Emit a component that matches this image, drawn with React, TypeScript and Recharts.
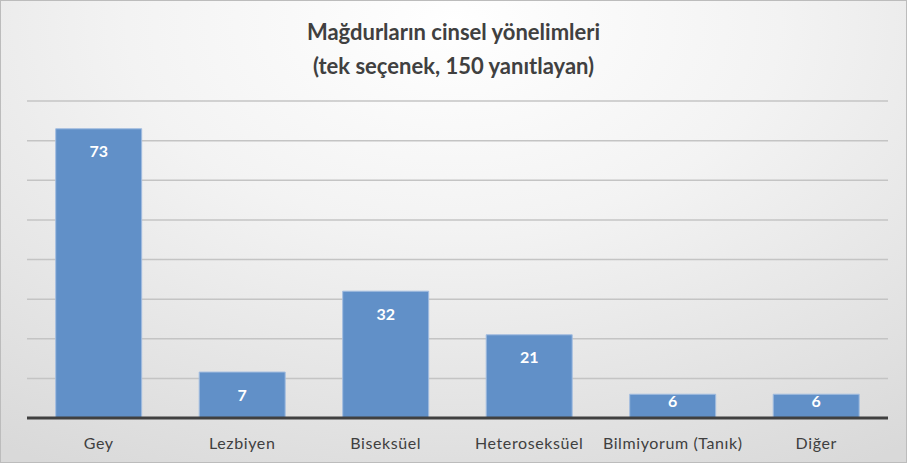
import { Bar, BarChart, CartesianGrid, LabelList, XAxis, YAxis } from "recharts";

const categories = ["Gey", "Lezbiyen", "Biseksüel", "Heteroseksüel", "Bilmiyorum (Tanık)", "Diğer"];
// bar heights as drawn (the Lezbiyen bar is drawn taller than its label says)
const barValues = [73, 11.6, 32, 21, 6, 6];
const barLabels = ["73", "7", "32", "21", "6", "6"];
const yTicks = [0, 10, 20, 30, 40, 50, 60, 70, 80];

const titleLines = ["Mağdurların cinsel yönelimleri", "(tek seçenek, 150 yanıtlayan)"];

const data = categories.map((name, i) => ({ name, value: barValues[i], label: barLabels[i] }));

const FONT = "Lato, 'Open Sans', sans-serif";

function CategoryTick({ x, y, payload }: any) {
  return (
    <text
      x={x}
      y={y + 16}
      textAnchor="middle"
      dominantBaseline="central"
      fontSize={16}
      letterSpacing={0.6}
      fontFamily={FONT}
      fill="#404040"
    >
      {payload.value}
    </text>
  );
}

function ValueLabel({ x, y, width, height, index }: any) {
  const cy = y + Math.min(22, Math.max(6, height - 18));
  return (
    <text
      x={x + width / 2}
      y={cy}
      textAnchor="middle"
      dominantBaseline="central"
      fontSize={16}
      fontWeight={700}
      fontFamily={FONT}
      fill="#ffffff"
    >
      {barLabels[index]}
    </text>
  );
}

export default function App() {
  return (
    <div
      style={{
        position: "absolute",
        left: 0,
        top: 0,
        width: 905,
        height: 461,
        border: "1px solid #bcbcbc",
        background: "radial-gradient(ellipse 90% 110% at 50% 5%, #ffffff 0%, #f3f3f3 40%, #d9d9d9 100%)",
        fontFamily: FONT,
      }}
    >
      <div
        style={{
          position: "absolute",
          left: 0,
          top: 14,
          width: 905,
          textAlign: "center",
          fontSize: 22,
          fontWeight: 700,
          color: "#404040",
          lineHeight: "34px",
        }}
      >
        {titleLines.map((t) => (
          <div key={t}>{t}</div>
        ))}
      </div>
      <div style={{ position: "absolute", left: -1, top: -1 }}>
        <BarChart
          width={907}
          height={463}
          data={data}
          margin={{ top: 101, right: 19, left: 27, bottom: 0 }}
          barCategoryGap="20%"
        >
          <CartesianGrid vertical={false} stroke="#c4c4c4" strokeWidth={1.5} />
          <YAxis hide domain={[0, 80]} ticks={yTicks} />
          <XAxis
            dataKey="name"
            height={45}
            tickLine={false}
            axisLine={{ stroke: "#404040", strokeWidth: 3 }}
            tick={<CategoryTick />}
            interval={0}
          />
          <Bar dataKey="value" fill="#6190C8" stroke="#a3bde0" strokeWidth={1} isAnimationActive={false}>
            <LabelList dataKey="label" content={<ValueLabel />} />
          </Bar>
        </BarChart>
      </div>
    </div>
  );
}
